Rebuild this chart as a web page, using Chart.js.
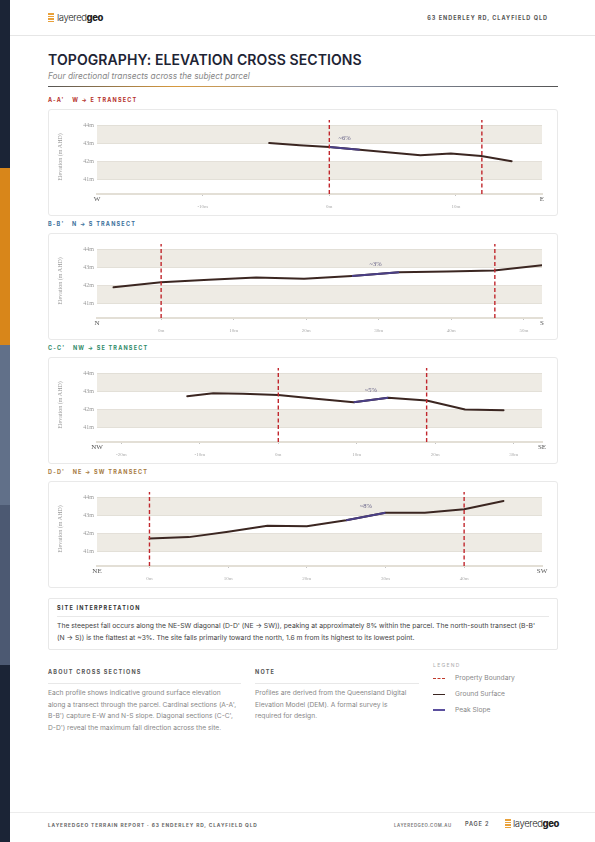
<!DOCTYPE html>
<html>
<head>
<meta charset="utf-8">
<script src="https://cdn.jsdelivr.net/npm/chart.js@4.4.0/dist/chart.umd.min.js"></script>
<style>
  html, body { margin: 0; padding: 0; }
  body { width: 595px; height: 842px; position: relative; overflow: hidden; background: #fff;
         font-family: Inter, 'Noto Sans', sans-serif; color: #333; }
  .abs { position: absolute; white-space: nowrap; }
  .side { position: absolute; left: 0; top: 0; width: 10px; height: 842px;
          background: linear-gradient(to bottom, #1b2436 0, #1b2436 168px, #d8861a 168px, #d8861a 345px,
          #617089 345px, #617089 505px, #4c5972 505px, #4c5972 665px, #1b2436 665px); }
  .logo-icon { position: absolute; width: 6px; height: 10px;
               background: repeating-linear-gradient(to bottom, #e9a13a 0, #e9a13a 1.6px, #fff 1.6px, #fff 2.5px); }
  .logo-text { position: absolute; font-size: 9.5px; letter-spacing: -0.4px; color: #222; line-height: 12px; }
  .logo-text b { font-weight: 800; }
  .logo-text span { font-weight: 300; }
  .cap { font-size: 5.5px; font-weight: 700; letter-spacing: 1.2px; line-height: 7px; }
  .card { position: absolute; left: 48px; width: 508px; height: 105px; border: 1px solid #e9e9e9; border-radius: 3px; }
  .card .cw { position: absolute; left: 0; top: 0; width: 508px; height: 105px; }
  .rule { position: absolute; height: 1px; background: #e8e8e8; }
  .txt { font-size: 6.7px; line-height: 11.5px; color: #888; }
</style>
</head>
<body>
<div class="side"></div>

<!-- header -->
<div class="logo-icon" style="left:48px; top:13px;"></div>
<div class="logo-text" style="left:57px; top:12px;"><span>layered</span><b>geo</b></div>
<div class="abs cap" style="right:47px; top:15px; color:#555; letter-spacing:1px;">63 ENDERLEY RD, CLAYFIELD QLD</div>
<div class="rule" style="left:10px; top:35px; width:585px; background:#e6e6e6;"></div>

<div class="abs" style="left:48px; top:51px; font-size:14px; line-height:18px; font-weight:600; color:#1e2434; letter-spacing:0.1px;">TOPOGRAPHY: ELEVATION CROSS SECTIONS</div>
<div class="abs" style="left:48px; top:71px; font-size:8.3px; line-height:10px; font-style:italic; color:#888;">Four directional transects across the subject parcel</div>
<div class="abs" style="left:48px; top:85.5px; width:510px; height:1.6px; background:linear-gradient(to right, #555 0%, #d89a3e 25%, #8e97aa 60%, #555 100%);"></div>

<!-- transects -->
<div class="abs cap" style="left:48px; top:96.5px; color:#b5312a;">A-A'&nbsp;&nbsp;&nbsp;W → E TRANSECT</div>
<div class="card" style="top:109px;"><div class="cw"><canvas id="chartA"></canvas></div></div>

<div class="abs cap" style="left:48px; top:220.5px; color:#3b6f9b;">B-B'&nbsp;&nbsp;&nbsp;N → S TRANSECT</div>
<div class="card" style="top:233px;"><div class="cw"><canvas id="chartB"></canvas></div></div>

<div class="abs cap" style="left:48px; top:344.5px; color:#2f8a68;">C-C'&nbsp;&nbsp;&nbsp;NW → SE TRANSECT</div>
<div class="card" style="top:357px;"><div class="cw"><canvas id="chartC"></canvas></div></div>

<div class="abs cap" style="left:48px; top:468.5px; color:#a67a3f;">D-D'&nbsp;&nbsp;&nbsp;NE → SW TRANSECT</div>
<div class="card" style="top:481px;"><div class="cw"><canvas id="chartD"></canvas></div></div>

<!-- interpretation -->
<div class="abs" style="left:48px; top:598px; width:508px; height:50px; border:1px solid #e8e8e8; border-radius:2px;"></div>
<div class="abs cap" style="left:57px; top:604.5px; color:#333;">SITE INTERPRETATION</div>
<div class="rule" style="left:57px; top:616px; width:492px;"></div>
<div class="abs txt" style="left:57px; top:620px; color:#444; font-size:6.8px;">The steepest fall occurs along the NE-SW diagonal (D-D' (NE → SW)), peaking at approximately 8% within the parcel. The north-south transect (B-B'<br>(N → S)) is the flattest at ~3%. The site falls primarily toward the north, 1.6 m from its highest to its lowest point.</div>

<!-- about / note -->
<div class="abs cap" style="left:48px; top:669px; color:#555;">ABOUT CROSS SECTIONS</div>
<div class="rule" style="left:48px; top:682.5px; width:193px;"></div>
<div class="abs txt" style="left:48px; top:688px;">Each profile shows indicative ground surface elevation<br>along a transect through the parcel. Cardinal sections (A-A',<br>B-B') capture E-W and N-S slope. Diagonal sections (C-C',<br>D-D') reveal the maximum fall direction across the site.</div>

<div class="abs cap" style="left:255px; top:669px; color:#555;">NOTE</div>
<div class="rule" style="left:255px; top:682.5px; width:164px;"></div>
<div class="abs txt" style="left:255px; top:688px;">Profiles are derived from the Queensland Digital<br>Elevation Model (DEM). A formal survey is<br>required for design.</div>

<!-- legend -->
<div class="abs" style="left:433px; top:662px; font-size:5px; letter-spacing:1.3px; color:#aaa; line-height:6px;">LEGEND</div>
<div class="abs" style="left:433px; top:678px; width:12px; height:0; border-top:1.2px dashed #c0392b;"></div>
<div class="abs txt" style="left:455px; top:673px;">Property Boundary</div>
<div class="abs" style="left:433px; top:693.5px; width:12px; height:1.6px; background:#3b2621;"></div>
<div class="abs txt" style="left:455px; top:688.5px;">Ground Surface</div>
<div class="abs" style="left:433px; top:709px; width:12px; height:1.6px; background:#5b4f9e;"></div>
<div class="abs txt" style="left:455px; top:704.5px;">Peak Slope</div>

<!-- footer -->
<div class="rule" style="left:10px; top:812px; width:585px; background:#ececec;"></div>
<div class="abs cap" style="left:48px; top:821.5px; color:#666; font-size:4.8px; letter-spacing:0.9px;">LAYEREDGEO TERRAIN REPORT · 63 ENDERLEY RD, CLAYFIELD QLD</div>
<div class="abs cap" style="left:394px; top:821.5px; color:#777; font-size:4.3px; font-weight:600; letter-spacing:0.6px;">LAYEREDGEO.COM.AU</div>
<div class="abs cap" style="left:465px; top:821px; color:#555; font-size:5.6px; font-weight:600; letter-spacing:0.8px;">PAGE 2</div>
<div class="logo-icon" style="left:505px; top:819px;"></div>
<div class="logo-text" style="left:513px; top:818px;"><span>layered</span><b>geo</b></div>

<script>
// elevation sample data (distance in m, elevation in m AHD)
const elevRange = [40.2, 44.3];
const elevTicks = [41, 42, 43, 44];

const aDist = [-4.75, -2.35, 0, 2.4, 4.8, 7.2, 9.6, 12.0, 14.4];
const aElev = [43.02, 42.9, 42.8, 42.65, 42.5, 42.35, 42.44, 42.3, 42.02];
const aExtent = [-18.35, 16.8];
const aBoundary = [0, 12.05];
const aPeak = [2, 3];
const aEnds = ['W', 'E'];

const bDist = [-6.56, 0, 6.56, 13.1, 19.7, 26.3, 32.8, 39.4, 45.9, 52.5];
const bElev = [41.9, 42.18, 42.32, 42.45, 42.38, 42.53, 42.73, 42.77, 42.83, 43.12];
const bExtent = [-8.84, 52.5];
const bBoundary = [0, 46.0];
const bPeak = [5, 6];
const bEnds = ['N', 'S'];

const cDist = [-11.6, -8.3, -4.5, 0, 4.8, 9.6, 14.0, 18.9, 23.8, 28.7];
const cElev = [42.74, 42.9, 42.88, 42.8, 42.6, 42.4, 42.65, 42.5, 42.0, 41.96];
const cExtent = [-23.1, 33.6];
const cBoundary = [0, 18.9];
const cPeak = [5, 6];
const cEnds = ['NW', 'SE'];

const dDist = [0, 5, 10, 15, 20, 25, 30, 35, 40, 45];
const dElev = [41.72, 41.8, 42.1, 42.43, 42.4, 42.73, 43.15, 43.15, 43.35, 43.8];
const dExtent = [-6.67, 49.9];
const dBoundary = [0, 40];
const dPeak = [5, 6];
const dEnds = ['NE', 'SW'];

const peakLabels = ['~6%', '~3%', '~5%', '~8%'];

const serif = "'Liberation Serif', 'DejaVu Serif', serif";

// shade alternate metre bands behind the profile
const bandsPlugin = {
  id: 'bands',
  beforeDraw(chart) {
    const { ctx, chartArea, scales: { y } } = chart;
    ctx.save();
    ctx.fillStyle = '#eeebe4';
    for (let i = elevTicks.length - 1; i > 0; i -= 2) {
      const top = y.getPixelForValue(elevTicks[i]);
      const bot = y.getPixelForValue(elevTicks[i - 1]);
      ctx.fillRect(chartArea.left, top, chartArea.right - chartArea.left, bot - top);
    }
    ctx.restore();
  }
};

// "~x%" text above the peak slope segment
const peakLabelPlugin = {
  id: 'peakLabel',
  afterDatasetsDraw(chart) {
    const ds = chart.data.datasets[1];
    const pts = chart.getDatasetMeta(1).data;
    if (!pts || pts.length < 2) return;
    const ctx = chart.ctx;
    ctx.save();
    ctx.font = '6.5px ' + serif;
    ctx.fillStyle = '#625e84';
    ctx.textAlign = 'center';
    ctx.textBaseline = 'middle';
    ctx.fillText(ds.peakLabel, (pts[0].x + pts[1].x) / 2, (pts[0].y + pts[1].y) / 2 - 10);
    ctx.restore();
  }
};

function transectChart(id, dist, elev, extent, boundary, peak, ends, peakLabel) {
  const ground = dist.map((d, i) => ({ x: d, y: elev[i] }));
  const slope = peak.map(i => ({ x: dist[i], y: elev[i] }));
  const lines = boundary.map(b => ({
    data: [{ x: b, y: elevRange[0] }, { x: b, y: elevRange[1] }],
    borderColor: '#c1272d', borderWidth: 1.4, borderDash: [4, 2.5], pointRadius: 0, order: 0
  }));
  const isEnd = c => !!(c && c.tick) && (c.tick.value === extent[0] || c.tick.value === extent[1]);

  new Chart(document.getElementById(id), {
    type: 'line',
    data: {
      datasets: [
        { data: ground, borderColor: '#3b2621', borderWidth: 2, pointRadius: 0, order: 2,
          borderJoinStyle: 'round', borderCapStyle: 'round' },
        { data: slope, borderColor: '#4a3f86', borderWidth: 2, pointRadius: 0, order: 1, peakLabel: peakLabel },
        ...lines
      ]
    },
    options: {
      responsive: true,
      maintainAspectRatio: false,
      animation: false,
      layout: { padding: { left: 8, right: 15, top: 10, bottom: 4 } },
      plugins: { legend: { display: false }, tooltip: { enabled: false } },
      scales: {
        x: {
          type: 'linear',
          min: extent[0],
          max: extent[1],
          afterBuildTicks: s => {
            const t = [extent[0]];
            for (let v = Math.ceil(extent[0] / 10) * 10; v < extent[1]; v += 10) {
              if (v - extent[0] > 2 && extent[1] - v > 1) t.push(v);
            }
            t.push(extent[1]);
            s.ticks = t.map(v => ({ value: v }));
          },
          afterFit: s => { s.height = 17; },
          border: { color: '#e3dfd6', width: 2 },
          grid: {
            drawOnChartArea: false, drawTicks: true, tickLength: 2,
            color: c => isEnd(c) ? 'rgba(0,0,0,0)' : '#c4c4c4'
          },
          ticks: {
            autoSkip: false, maxRotation: 0, padding: 0,
            color: c => isEnd(c) ? '#555' : '#aaa',
            font: c => isEnd(c)
              ? { family: serif, size: 7, lineHeight: 1 }
              : { family: serif, size: 5, lineHeight: 1.4 },
            callback: v => v === extent[0] ? ends[0] : v === extent[1] ? ends[1] : ['', v + 'm']
          }
        },
        y: {
          min: elevRange[0],
          max: elevRange[1],
          afterBuildTicks: s => { s.ticks = elevTicks.map(v => ({ value: v })); },
          afterFit: s => { s.width = 40; },
          border: { display: false },
          grid: { color: '#dedad2', lineWidth: 0.8, drawTicks: false, tickLength: 0 },
          ticks: { padding: 3, color: '#999', font: { family: serif, size: 6 }, callback: v => v + 'm' },
          title: { display: true, text: 'Elevation (m AHD)', color: '#999', padding: 0,
                   font: { family: serif, size: 6 } }
        }
      }
    },
    plugins: [bandsPlugin, peakLabelPlugin]
  });
}

transectChart('chartA', aDist, aElev, aExtent, aBoundary, aPeak, aEnds, peakLabels[0]);
transectChart('chartB', bDist, bElev, bExtent, bBoundary, bPeak, bEnds, peakLabels[1]);
transectChart('chartC', cDist, cElev, cExtent, cBoundary, cPeak, cEnds, peakLabels[2]);
transectChart('chartD', dDist, dElev, dExtent, dBoundary, dPeak, dEnds, peakLabels[3]);
</script>
</body>
</html>
